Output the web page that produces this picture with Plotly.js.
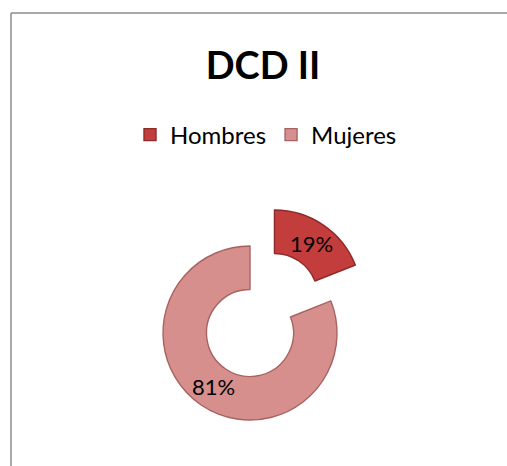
<!DOCTYPE html>
<html>
<head>
<meta charset="utf-8">
<script src="https://cdn.plot.ly/plotly-3.0.1.min.js"></script>
<style>
  html, body { margin: 0; padding: 0; background: #ffffff; }
  #chart { width: 507px; height: 466px; }
</style>
</head>
<body>
<div id="chart"></div>
<script>
const chartTitle = "DCD II";
const categories = ["Hombres", "Mujeres"];
const values = [19, 81];
const sliceColors = ["#c23d3b", "#d68f8d"];
const lineColors = ["#8e2a28", "#a86361"];
const pulls = [0.5, 0];

const W = 507, H = 466;
const HOLE = 0.5;
const domX = [119.5 / W, 380.5 / W];
const domY = [2.5 / H, 263.5 / H];

const trace = {
  type: "pie",
  labels: categories,
  values: values,
  hole: HOLE,
  sort: false,
  direction: "clockwise",
  rotation: 0,
  pull: pulls,
  marker: { colors: sliceColors, line: { color: lineColors, width: 1.4 } },
  textinfo: "none",
  hoverinfo: "none",
  domain: { x: domX, y: domY }
};

// Percentage labels placed on each slice's bisector at mid-ring (computed from the data
// with the same geometry rule Plotly uses for pie radius: r = min(box)/(2 + 2*maxPull)).
const total = values.reduce((a, b) => a + b, 0);
const boxW = W * (domX[1] - domX[0]);
const boxH = H * (domY[1] - domY[0]);
const maxPull = Math.max.apply(null, pulls);
const r = Math.min(boxW, boxH) / (2 + 2 * maxPull);
const cx = W * (domX[0] + domX[1]) / 2;
const cy = H * (1 - (domY[0] + domY[1]) / 2);
const rMid = r * (1 + HOLE) / 2;
let cum = 0;
const annotations = values.map((v, i) => {
  const theta = 2 * Math.PI * (cum + v / 2) / total;
  cum += v;
  const dist = rMid + pulls[i] * r;
  const px = cx + dist * Math.sin(theta);
  const py = cy - dist * Math.cos(theta);
  return {
    xref: "paper", yref: "paper",
    x: px / W, y: 1 - py / H,
    xanchor: "center", yanchor: "middle",
    text: Math.round(100 * v / total) + "%",
    showarrow: false,
    font: { family: "Lato, 'Open Sans', sans-serif", size: 22, color: "#000000" }
  };
});

const layout = {
  width: W,
  height: H,
  margin: { l: 0, r: 0, t: 0, b: 0 },
  paper_bgcolor: "#ffffff",
  plot_bgcolor: "#ffffff",
  title: {
    text: "<b>" + chartTitle + "</b>",
    font: { family: "Lato, 'Open Sans', sans-serif", size: 38, color: "#000000" },
    x: 263 / W, xanchor: "center",
    y: (H - 66) / H, yanchor: "middle"
  },
  showlegend: true,
  legend: {
    orientation: "h",
    x: 266 / W, xanchor: "center",
    y: (H - 135) / H, yanchor: "middle",
    font: { family: "Lato, 'Open Sans', sans-serif", size: 24, color: "#000000" },
    itemclick: false, itemdoubleclick: false
  },
  annotations: annotations,
  shapes: [
    { type: "line", xref: "paper", yref: "paper", x0: 11 / W, x1: 11 / W, y0: 0, y1: (H - 13) / H,
      line: { color: "#8c8c8c", width: 1.5 } },
    { type: "line", xref: "paper", yref: "paper", x0: 11 / W, x1: 1, y0: (H - 13) / H, y1: (H - 13) / H,
      line: { color: "#8c8c8c", width: 1.5 } }
  ]
};

Plotly.newPlot("chart", [trace], layout, { staticPlot: true, displayModeBar: false });
</script>
</body>
</html>
